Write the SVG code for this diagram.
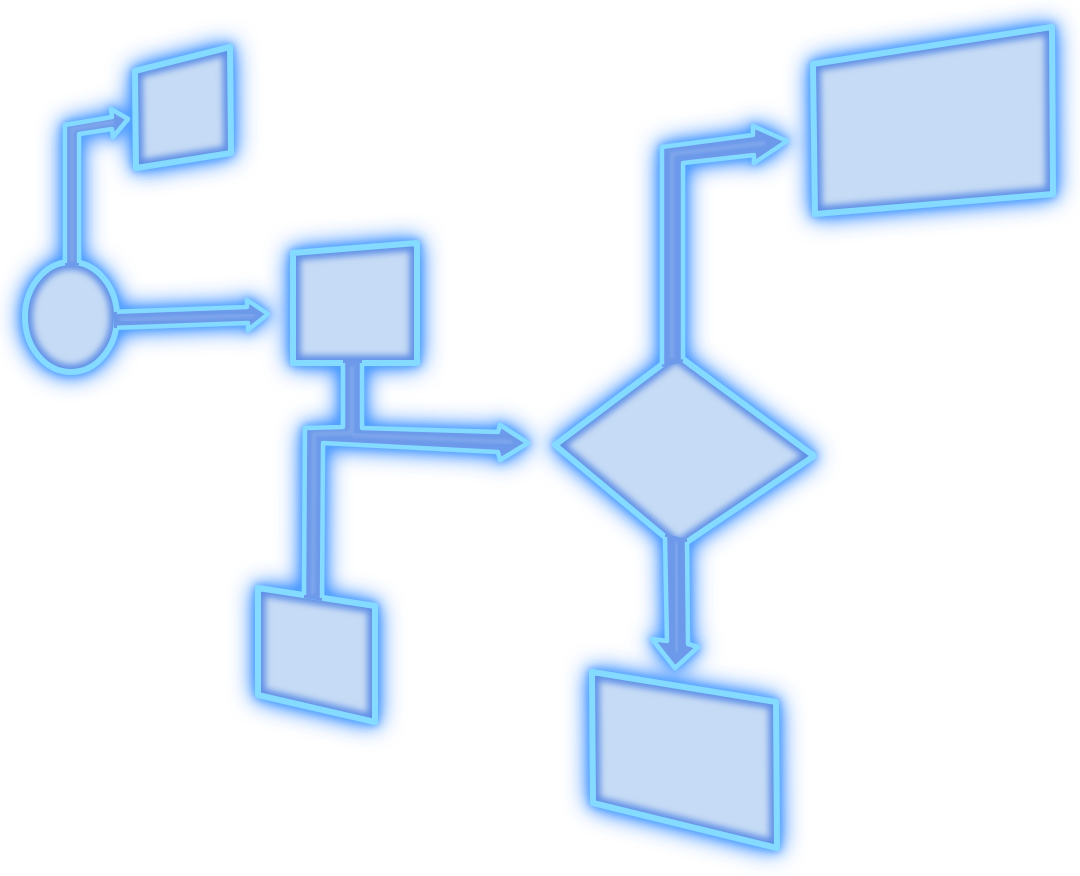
<svg xmlns="http://www.w3.org/2000/svg" xmlns:xlink="http://www.w3.org/1999/xlink" width="1080" height="876" viewBox="0 0 1080 876">
  <style>
    .body { fill: #c6dbf5; }
    .inner { fill: none; stroke: #5f8fe6; stroke-width: 15; stroke-linejoin: round; }
    .rim { fill: none; stroke: #84daff; stroke-width: 6; stroke-linejoin: round; }
    .cfill { fill: #6c99e9; }
    .ccore { fill: none; stroke: #8fb3f0; stroke-width: 4; stroke-linejoin: round; opacity: 0.55; }
    .crim { fill: none; stroke: #84daff; stroke-width: 4.5; stroke-linejoin: round; stroke-linecap: butt; }
  </style>
  <defs>
    <filter id="outerGlow" filterUnits="userSpaceOnUse" x="0" y="0" width="1080" height="876">
      <feGaussianBlur in="SourceAlpha" stdDeviation="12" result="b1"/>
      <feComponentTransfer in="b1" result="b1s">
        <feFuncA type="linear" slope="1.4"/>
      </feComponentTransfer>
      <feFlood flood-color="#3f8fff" flood-opacity="1"/>
      <feComposite in2="b1s" operator="in" result="g1"/>
      <feGaussianBlur in="SourceAlpha" stdDeviation="4.5" result="b2"/>
      <feComponentTransfer in="b2" result="b2s">
        <feFuncA type="linear" slope="1.3"/>
      </feComponentTransfer>
      <feFlood flood-color="#55a5ff" flood-opacity="1"/>
      <feComposite in2="b2s" operator="in" result="g2"/>
      <feMerge>
        <feMergeNode in="g1"/>
        <feMergeNode in="g2"/>
        <feMergeNode in="SourceGraphic"/>
      </feMerge>
    </filter>
    <filter id="soft" x="-20%" y="-20%" width="140%" height="140%">
      <feGaussianBlur stdDeviation="3"/>
    </filter>
    <filter id="softer" x="-20%" y="-20%" width="140%" height="140%">
      <feGaussianBlur stdDeviation="1.5"/>
    </filter>
    <path id="sA" d="M135,71 L230,47 L231,153 L136,168 Z"/>
    <ellipse id="sCircle" cx="71" cy="317" rx="46" ry="55"/>
    <path id="sB" d="M293,253 L417,243 L417,363 L293,363 Z"/>
    <path id="sC" d="M258,588 L375,606 L375,722 L258,695 Z"/>
    <path id="sDiamond" d="M676,354 L814,456 L678,548 L555,445 Z"/>
    <path id="sD" d="M813,64 L1052,27 L1053,194 L815,214 Z"/>
    <path id="sE" d="M592,672 L776,702 L777,848 L593,803 Z"/>
    <clipPath id="cA"><use xlink:href="#sA"/></clipPath>
    <clipPath id="cCircle"><use xlink:href="#sCircle"/></clipPath>
    <clipPath id="cB"><use xlink:href="#sB"/></clipPath>
    <clipPath id="cC"><use xlink:href="#sC"/></clipPath>
    <clipPath id="cDiamond"><use xlink:href="#sDiamond"/></clipPath>
    <clipPath id="cD"><use xlink:href="#sD"/></clipPath>
    <clipPath id="cE"><use xlink:href="#sE"/></clipPath>
  </defs>

  <g filter="url(#outerGlow)">
    <g id="nodes">
      <g id="node-start-circle">
        <g clip-path="url(#cCircle)">
          <use xlink:href="#sCircle" class="body"/>
          <use xlink:href="#sCircle" class="inner" filter="url(#soft)"/>
        </g>
        <use xlink:href="#sCircle" class="rim"/>
      </g>
      <g id="node-top-left-box">
        <g clip-path="url(#cA)">
          <use xlink:href="#sA" class="body"/>
          <use xlink:href="#sA" class="inner" filter="url(#soft)"/>
        </g>
        <use xlink:href="#sA" class="rim"/>
      </g>
      <g id="node-middle-box">
        <g clip-path="url(#cB)">
          <use xlink:href="#sB" class="body"/>
          <use xlink:href="#sB" class="inner" filter="url(#soft)"/>
        </g>
        <use xlink:href="#sB" class="rim"/>
      </g>
      <g id="node-lower-left-box">
        <g clip-path="url(#cC)">
          <use xlink:href="#sC" class="body"/>
          <use xlink:href="#sC" class="inner" filter="url(#soft)"/>
        </g>
        <use xlink:href="#sC" class="rim"/>
      </g>
      <g id="node-decision">
        <g clip-path="url(#cDiamond)">
          <use xlink:href="#sDiamond" class="body"/>
          <use xlink:href="#sDiamond" class="inner" filter="url(#soft)"/>
        </g>
        <use xlink:href="#sDiamond" class="rim"/>
      </g>
      <g id="node-top-right-box">
        <g clip-path="url(#cD)">
          <use xlink:href="#sD" class="body"/>
          <use xlink:href="#sD" class="inner" filter="url(#soft)"/>
        </g>
        <use xlink:href="#sD" class="rim"/>
      </g>
      <g id="node-bottom-box">
        <g clip-path="url(#cE)">
          <use xlink:href="#sE" class="body"/>
          <use xlink:href="#sE" class="inner" filter="url(#soft)"/>
        </g>
        <use xlink:href="#sE" class="rim"/>
      </g>
    </g>

    <g id="connectors">
      <g id="conn-circle-to-topleft">
        <path class="cfill" d="M65,265.5 L65,125 L112,117 L111,109 L128,119 L113,137 L112,129 L79,134 L79,265.5 Z"/>
        <path class="ccore" filter="url(#softer)" d="M72,262 L72,129 L114,122"/>
        <path class="crim" d="M65,263 L65,125 L112,117 L111,109 L128,119 L113,137 L112,129 L79,134 L79,263"/>
      </g>
      <g id="conn-circle-to-middle">
        <path class="cfill" d="M114,312 L247,307 L247,300 L268,314 L248,330 L248,323 L114,328 Z"/>
        <path class="ccore" filter="url(#softer)" d="M120,320 L255,315"/>
        <path class="crim" d="M117,311.8 L247,307 L247,300 L268,314 L248,330 L248,323 L117,327.8"/>
      </g>
      <g id="conn-middle-branch">
        <path class="cfill" d="M343,360 L343,427 L305,428 L304,598 L322,601 L323,443 L498,452 L500,460 L528,443 L500,425 L498,432 L362,428 L362,360 Z"/>
        <path class="ccore" filter="url(#softer)" d="M352,366 L352,433 L314,434 L313,594"/>
        <path class="ccore" filter="url(#softer)" d="M352,435 L512,442"/>
        <path class="crim" d="M343,363 L343,427 L305,428 L304,595"/>
        <path class="crim" d="M322,598 L323,443 L498,452 L500,460 L528,443 L500,425 L498,432 L362,428 L362,363"/>
      </g>
      <g id="conn-decision-to-topright">
        <path class="cfill" d="M662,367 L662,147 L753,135 L753,126 L787,141 L754,163 L754,155 L683,163 L683,362 Z"/>
        <path class="ccore" filter="url(#softer)" d="M672,358 L672,154 L765,143"/>
        <path class="crim" d="M662,364.5 L662,147 L753,135 L753,126 L787,141 L754,163 L754,155 L683,163 L683,359.2"/>
      </g>
      <g id="conn-decision-to-bottom">
        <path class="cfill" d="M665,534 L667,641 L652,639 L675,668 L698,647 L688,644 L687,539 Z"/>
        <path class="ccore" filter="url(#softer)" d="M676,542 L677,652"/>
        <path class="crim" d="M665,537 L667,641 L652,639 L675,668 L698,647 L688,644 L687,541.9"/>
      </g>
    </g>
  </g>
</svg>
